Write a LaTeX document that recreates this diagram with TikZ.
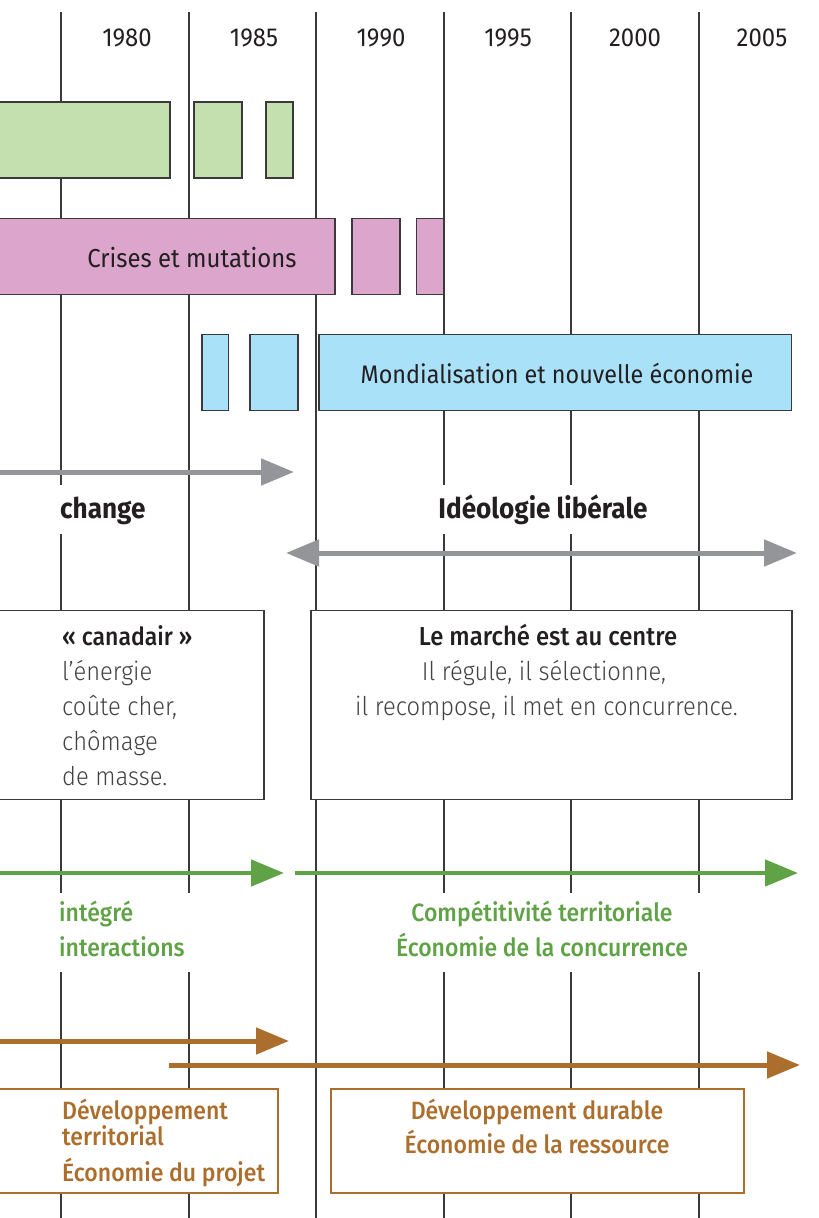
\documentclass[tikz,border=0pt]{standalone}
\usepackage{fontspec}
\setmainfont{Fira Sans}[FakeStretch=0.92]
\newfontfamily\lightf{Fira Sans Light}[FakeStretch=0.92]
\newfontfamily\medf{Fira Sans Medium}[FakeStretch=0.92]
\usetikzlibrary{arrows.meta}
\definecolor{ink}{HTML}{231F20}
\definecolor{grid}{HTML}{3A3A3A}
\definecolor{garrow}{HTML}{939598}
\definecolor{grn}{HTML}{5FA346}
\definecolor{brn}{HTML}{AC6E2C}
\definecolor{gfill}{HTML}{C4E0AF}
\definecolor{pfill}{HTML}{DCA5CB}
\definecolor{bfill}{HTML}{A9E1F9}
\tikzset{
  txt/.style={inner sep=0pt, anchor=base, font=\medf\fontsize{25}{30}\selectfont, text=ink},
  rtxt/.style={txt, font=\fontsize{26}{30}\selectfont},
  ltxt/.style={txt, anchor=base west, font=\lightf\fontsize{25.8}{30}\selectfont, text=ink!85},
  btxt/.style={txt, font=\bfseries\fontsize{28.4}{32}\selectfont},
  bar/.style={draw=grid, line width=1.2pt, inner sep=0pt, minimum height=76pt},
  gridline/.style={draw=grid, line width=1.2pt},
  grayarrow/.style={draw=garrow, line width=5pt, -{Triangle[length=33pt,width=26pt]}},
  grayboth/.style={draw=garrow, line width=5pt, {Triangle[length=33pt,width=26pt]}-{Triangle[length=33pt,width=26pt]}},
  grnarrow/.style={draw=grn, line width=4.7pt, -{Triangle[length=33pt,width=26pt]}},
  brnarrow/.style={draw=brn, line width=5pt, -{Triangle[length=33pt,width=26pt]}},
  wbox/.style={draw=grid, line width=1.2pt, fill=white},
  bbox/.style={draw=brn, line width=2.5pt, fill=white},
}
\begin{document}
\begin{tikzpicture}[x=1pt,y=-1pt]
\path[use as bounding box, clip] (0,0) rectangle (819,1218);
% grid lines
\foreach \xx/\nm in {61/a,189/b,316/c,444/d,571/e,699/f}{
  \coordinate (top\nm) at (\xx,12);
  \coordinate (bot\nm) at (\xx,1230);
  \draw[gridline] (top\nm) -- (bot\nm);
}
% years
\node[rtxt] (y1980) at (127,46.5) {1980};
\node[rtxt] (y1985) at (254,46.5) {1985};
\node[rtxt] (y1990) at (381,46.5) {1990};
\node[rtxt] (y1995) at (508,46.5) {1995};
\node[rtxt] (y2000) at (635,46.5) {2000};
\node[rtxt] (y2005) at (762,46.5) {2005};
% green bars
\node[bar, fill=gfill, minimum width=190pt] (g1) at (75,140) {};
\node[bar, fill=gfill, minimum width=48pt] (g2) at (218,140) {};
\node[bar, fill=gfill, minimum width=27pt] (g3) at (279.5,140) {};
% pink bars
\node[bar, fill=pfill, minimum width=355pt] (p1) at (157.5,256.5) {};
\node[bar, fill=pfill, minimum width=48pt] (p2) at (376,256.5) {};
\node[bar, fill=pfill, minimum width=26.5pt] (p3) at (430,256.5) {};
\node[rtxt] (crises) at (192,267) {Crises et mutations};
% blue bars
\node[bar, fill=bfill, minimum width=26.5pt] (b1) at (215.3,372.7) {};
\node[bar, fill=bfill, minimum width=48pt] (b2) at (274,372.7) {};
\node[bar, fill=bfill, minimum width=472.7pt] (b3) at (555.3,372.7) {};
\node[rtxt, font=\fontsize{25.4}{30}\selectfont] (mondial) at (557,383) {Mondialisation et nouvelle économie};
% gray arrows
\coordinate (ga1s) at (-10,472);
\coordinate (ga1e) at (294,472);
\draw[grayarrow] (ga1s) -- (ga1e);
\coordinate (ga2s) at (286,553);
\coordinate (ga2e) at (797,553);
\draw[grayboth] (ga2s) -- (ga2e);
% ideology labels
\fill[white] (50,485) rectangle (154,534);
\fill[white] (430,485) rectangle (658,534);
\node[btxt, anchor=base west] (change) at (60,518) {change};
\node[btxt] (ideo) at (543,518) {Idéologie libérale};
% white boxes
\node[wbox, inner sep=0pt, minimum width=284pt, minimum height=189pt] (boxL) at (122,705) {};
\node[txt, anchor=base west] (l1) at (62,645) {« canadair »};
\node[ltxt] (l2) at (62,680) {l’énergie};
\node[ltxt] (l3) at (62,715) {coûte cher,};
\node[ltxt] (l4) at (62,750) {chômage};
\node[ltxt] (l5) at (62,785) {de masse.};
\node[wbox, inner sep=0pt, minimum width=481pt, minimum height=189pt] (boxR) at (551.5,705) {};
\node[txt, font=\medf\fontsize{26}{30}\selectfont] (r1) at (548,645) {Le marché est au centre};
\node[ltxt, anchor=base] (r2) at (544,680) {Il régule, il sélectionne,};
\node[ltxt, anchor=base] (r3) at (546.5,715) {il recompose, il met en concurrence.};
% green arrows
\coordinate (gr1s) at (-10,873);
\coordinate (gr1e) at (284,873);
\draw[grnarrow] (gr1s) -- (gr1e);
\coordinate (gr2s) at (295,873);
\coordinate (gr2e) at (798,873);
\draw[grnarrow] (gr2s) -- (gr2e);
\fill[white] (50,893) rectangle (200,972);
\fill[white] (382,893) rectangle (708,972);
\node[txt, anchor=base west, text=grn] (gt1) at (59,921) {intégré};
\node[txt, anchor=base west, text=grn] (gt2) at (59,956) {interactions};
\node[txt, text=grn] (gt3) at (542,921) {Compétitivité territoriale};
\node[txt, text=grn] (gt4) at (542,956) {Économie de la concurrence};
% brown arrows
\coordinate (br1s) at (-10,1041);
\coordinate (br1e) at (289,1041);
\draw[brnarrow] (br1s) -- (br1e);
\coordinate (br2s) at (169,1065);
\coordinate (br2e) at (800,1065);
\draw[brnarrow] (br2s) -- (br2e);
% brown boxes
\node[bbox, inner sep=0pt, minimum width=298pt, minimum height=104pt] (bbL) at (129,1141) {};
\node[txt, anchor=base west, text=brn] (bl1) at (62,1119) {Développement};
\node[txt, anchor=base west, text=brn] (bl2) at (62,1145) {territorial};
\node[txt, anchor=base west, text=brn] (bl3) at (62,1181) {Économie du projet};
\node[bbox, inner sep=0pt, minimum width=413pt, minimum height=104pt] (bbR) at (537.5,1141) {};
\node[txt, text=brn] (br1) at (537,1119) {Développement durable};
\node[txt, text=brn] (br2) at (537,1153) {Économie de la ressource};
\end{tikzpicture}
\end{document}
